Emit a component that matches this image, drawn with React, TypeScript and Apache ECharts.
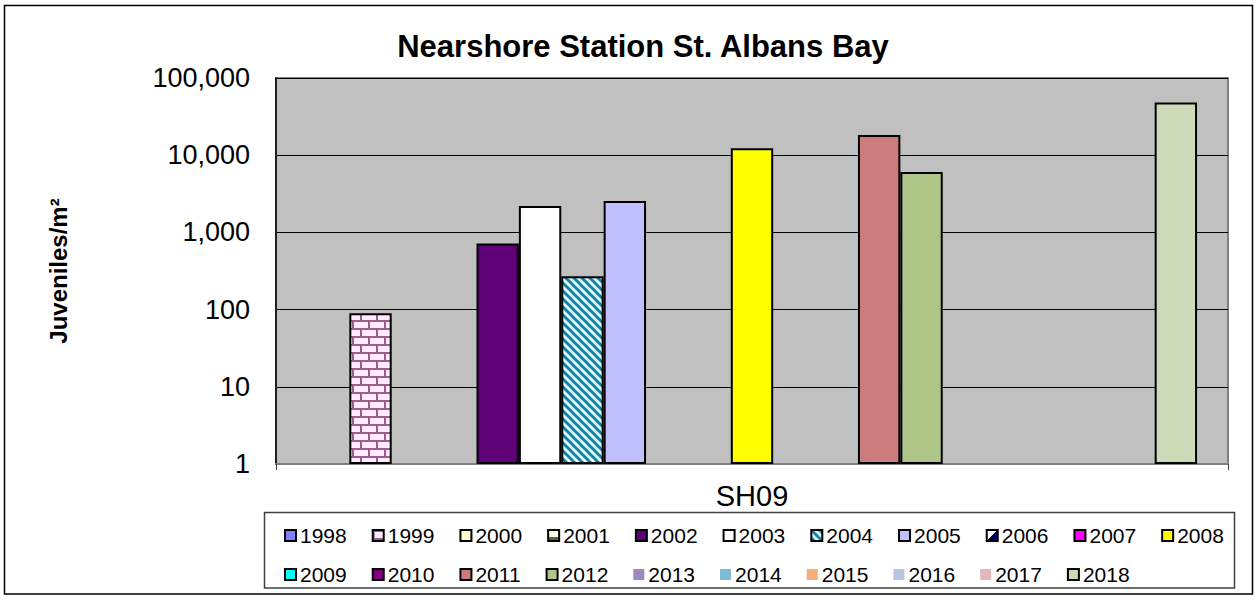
import React, { useEffect, useRef } from 'react';
import * as echarts from 'echarts';

const titleText = 'Nearshore Station St. Albans Bay';
const yAxisTitle = 'Juveniles/m²';
const categories = ['SH09'];
const years = ['1998', '1999', '2000', '2001', '2002', '2003', '2004', '2005', '2006', '2007', '2008',
  '2009', '2010', '2011', '2012', '2013', '2014', '2015', '2016', '2017', '2018'];
const values: (number | null)[] = [null, 90, null, null, 720, 2200, 270, 2550, null, null, 12300,
  null, null, 18200, 6050, null, null, null, null, null, 48000];
const yTicks = [1, 10, 100, 1000, 10000, 100000];
const legendRow1 = years.slice(0, 11);
const legendRow2 = years.slice(11);
const plainColors: Record<string, string> = {
  '1998': '#8080FF', '2000': '#FFFFCC', '2001': '#FFFFF0', '2002': '#5E0076', '2003': '#FFFFFF',
  '2005': '#C0C0FF', '2006': '#000080', '2007': '#FF00FF', '2008': '#FFFF00', '2009': '#00FFFF',
  '2010': '#800080', '2011': '#CC7C7C', '2012': '#AEC788', '2013': '#9E8BBD', '2014': '#7DBCD3',
  '2015': '#F8AE78', '2016': '#B6C6E0', '2017': '#E2B8B8', '2018': '#CDDAB8',
};
const borderless = ['2013', '2014', '2015', '2016', '2017'];

const FONT = 'Liberation Sans, Arial, sans-serif';

function brickPattern() {
  const c = document.createElement('canvas');
  c.width = 16; c.height = 16;
  const g = c.getContext('2d')!;
  g.fillStyle = '#FFEAFF';
  g.fillRect(0, 0, 16, 16);
  g.fillStyle = '#9A5E8A';
  g.fillRect(0, 0, 16, 2);
  g.fillRect(0, 8, 16, 2);
  g.fillRect(0, 2, 2, 6);
  g.fillRect(8, 10, 2, 6);
  return c;
}

function diagPattern() {
  const s = 8;
  const c = document.createElement('canvas');
  c.width = s; c.height = s;
  const g = c.getContext('2d')!;
  g.fillStyle = '#E8FFFF';
  g.fillRect(0, 0, s, s);
  g.strokeStyle = '#1282A8';
  g.lineWidth = 3;
  for (let k = -1; k <= 1; k++) {
    g.beginPath();
    g.moveTo(-2 + k * s, -2);
    g.lineTo(s + 2 + k * s, s + 2);
    g.stroke();
  }
  return c;
}

export default function App() {
  const ref = useRef<HTMLDivElement>(null);
  useEffect(() => {
    if (!ref.current) return;
    const chart = echarts.init(ref.current, undefined, { renderer: 'svg' });
    const brick = { image: brickPattern(), repeat: 'repeat' };
    const diag = { image: diagPattern(), repeat: 'repeat' };
    const fillOf = (y: string): any => {
      if (y === '1999') return brick;
      if (y === '2004') return diag;
      return plainColors[y];
    };
    const legendFill = (y: string): any => {
      if (y === '2006') {
        return { type: 'linear', x: 0, y: 0, x2: 1, y2: 1, colorStops: [
          { offset: 0, color: '#FFFFFF' }, { offset: 0.5, color: '#FFFFFF' },
          { offset: 0.5, color: '#000060' }, { offset: 1, color: '#000060' }] };
      }
      if (y === '2001') {
        return { type: 'linear', x: 0, y: 0, x2: 0, y2: 1, colorStops: [
          { offset: 0, color: '#FFFFF0' }, { offset: 0.6, color: '#FFFFF0' },
          { offset: 0.6, color: '#606050' }, { offset: 1, color: '#606050' }] };
      }
      return fillOf(y);
    };
    const legendData = (list: string[]) => list.map((y) => ({
      name: y,
      icon: 'rect',
      itemStyle: borderless.includes(y)
        ? { color: legendFill(y), borderWidth: 0 }
        : { color: legendFill(y), borderColor: '#000', borderWidth: 2 },
    }));
    const legendCommon = {
      orient: 'horizontal',
      left: 279,
      itemWidth: 11,
      itemHeight: 11,
      itemGap: 25,
      selectedMode: false,
      textStyle: { fontFamily: FONT, fontSize: 21, color: '#000', padding: [0, 0, 0, -1] },
    };
    chart.setOption({
      animation: false,
      backgroundColor: '#FFFFFF',
      title: {
        text: titleText,
        left: 638,
        top: 26,
        textAlign: 'center',
        textStyle: { fontFamily: FONT, fontSize: 31, fontWeight: 'bold', color: '#000' },
      },
      legend: [
        { ...legendCommon, top: 520, data: legendData(legendRow1) },
        { ...legendCommon, top: 559, data: legendData(legendRow2) },
      ],
      grid: {
        left: 276, right: 28, top: 78, bottom: 141,
        show: true, backgroundColor: '#C0C0C0', borderColor: '#808080', borderWidth: 2,
      },
      xAxis: {
        type: 'category',
        data: categories,
        axisLine: { show: true, lineStyle: { color: '#808080', width: 2 } },
        axisTick: { show: true, length: 6, lineStyle: { color: '#404040', width: 1 } },
        axisLabel: { fontFamily: FONT, fontSize: 29, color: '#000', margin: 17 },
      },
      yAxis: {
        type: 'log',
        logBase: 10,
        min: yTicks[0],
        max: yTicks[yTicks.length - 1],
        name: yAxisTitle,
        nameLocation: 'middle',
        nameRotate: 90,
        nameGap: 206,
        nameTextStyle: { fontFamily: FONT, fontSize: 24, fontWeight: 'bold', color: '#000' },
        axisLine: { show: true, lineStyle: { color: '#202020', width: 2 } },
        axisTick: { show: false },
        splitLine: { show: true, lineStyle: { color: '#000', width: 1 } },
        axisLabel: {
          fontFamily: FONT, fontSize: 27, color: '#000', margin: 26,
          formatter: (v: number) => Math.round(v).toLocaleString('en-US'),
        },
      },
      series: years.map((y, i) => ({
        name: y,
        type: 'bar',
        barGap: '0%',
        barCategoryGap: '6.5%',
        data: [values[i]],
        itemStyle: { color: fillOf(y), borderColor: '#000', borderWidth: 2 },
        emphasis: { disabled: true },
      })),
      graphic: [
        {
          type: 'rect',
          shape: { x: 4.5, y: 5.5, width: 1248, height: 588.5 },
          style: { fill: 'none', stroke: '#000', lineWidth: 1.5 },
          silent: true,
          z: -1,
        },
        {
          type: 'rect',
          shape: { x: 264.5, y: 512.5, width: 970, height: 75.5 },
          style: { fill: 'none', stroke: '#404040', lineWidth: 1.5 },
          silent: true,
        },
      ],
    });
    return () => chart.dispose();
  }, []);
  return <div ref={ref} style={{ position: 'fixed', left: 0, top: 0, width: 1256, height: 605 }} />;
}
